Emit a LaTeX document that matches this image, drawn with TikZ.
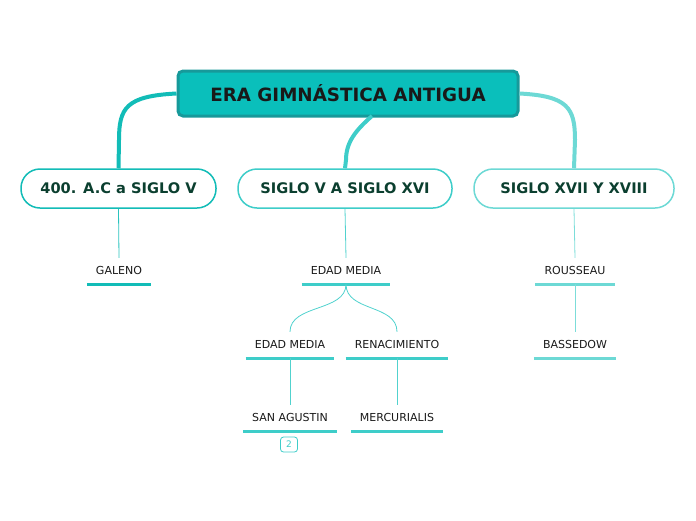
\documentclass[tikz,border=0pt]{standalone}
\usepackage{fontspec}
\setmainfont{DejaVu Sans}
\usepackage{xcolor}
\usepackage{tikz}
\usetikzlibrary{positioning}

\definecolor{rootfill}{HTML}{0ABFBB}
\definecolor{rootline}{HTML}{17999A}
\definecolor{brA}{HTML}{12BCB7}
\definecolor{brB}{HTML}{3ECDC9}
\definecolor{brC}{HTML}{6DD9D5}
\definecolor{titletxt}{HTML}{0B3F2F}

\begin{document}
\begin{tikzpicture}[x=1pt, y=-1pt,
  central/.style={draw=rootline, fill=rootfill, line width=3pt, rounded corners=5pt, minimum width=340pt, minimum height=45pt, font=\fontsize{18.3}{20}\selectfont\bfseries, text=black!90},
  era/.style={draw=#1, fill=white, line width=1.5pt, rounded corners=19pt, minimum height=39pt, font=\fontsize{14.6}{16}\selectfont\bfseries, text=titletxt},
  topic/.style={text height=8pt, text depth=2pt, inner ysep=8pt, inner xsep=9pt, font=\fontsize{11}{13}\selectfont, text=black!90},
  uline/.style={line width=3pt, #1},
  trunk/.style={line width=4pt, #1},
  twig/.style={line width=0.8pt, #1!90},
  badge/.style={draw=brB, text=brB, rounded corners=3pt, line width=0.8pt, minimum width=17pt, minimum height=15pt, inner sep=0pt, font=\fontsize{9}{10}\selectfont},
]
  \useasboundingbox (0,0) rectangle (696,520);

  % nodes
  \node[central] (root) at (348,93.5) {ERA GIMNÁSTICA ANTIGUA};

  \node[era=brA, minimum width=195pt] (antes)   at (118.5,188.5) {400. A.C a SIGLO V};
  \node[era=brB, minimum width=214pt] (medio)   at (345,188.5)   {SIGLO V A SIGLO XVI};
  \node[era=brC, minimum width=200pt] (moderno) at (574,188.5)   {SIGLO XVII Y XVIII};

  \node[topic] (galeno)   at (119,271) {GALENO};
  \node[topic] (edad)     at (346,271) {EDAD MEDIA};
  \node[topic] (rousseau) at (575,271) {ROUSSEAU};

  \node[topic] (edadb)    at (290,345) {EDAD MEDIA};
  \node[topic] (renac)    at (397,345) {RENACIMIENTO};
  \node[topic] (bassedow) at (575,345) {BASSEDOW};

  \node[topic] (agustin)  at (290,418) {SAN AGUSTIN};
  \node[topic] (mercu)    at (397,418) {MERCURIALIS};

  \node[badge] (nota) at (289,444.5) {2};

  % underlines
  \draw[uline=brA] (galeno.south west) -- (galeno.south east);
  \foreach \n in {edad, edadb, renac, agustin, mercu}
    \draw[uline=brB] (\n.south west) -- (\n.south east);
  \foreach \n in {rousseau, bassedow}
    \draw[uline=brC] (\n.south west) -- (\n.south east);

  % trunks
  \coordinate (rb) at (372,116);
  \draw[trunk=brA] (root.west) .. controls (126,96) and (119,108) .. (119,140) -- (antes.north);
  \draw[trunk=brB] (rb) .. controls (356,130) and (346,142) .. (346,160) -- (medio.north);
  \draw[trunk=brC] (root.east) .. controls (568,96) and (575,108) .. (575,140) -- (moderno.north);

  % twigs
  \draw[twig=brA] (antes.south) -- (galeno.north);
  \draw[twig=brB] (medio.south) -- (edad.north);
  \draw[twig=brC] (moderno.south) -- (rousseau.north);
  \draw[twig=brB] (edad.south) .. controls (346,312) and (290,304) .. (edadb.north);
  \draw[twig=brB] (edad.south) .. controls (346,312) and (397,304) .. (renac.north);
  \draw[twig=brB] (edadb.south) -- (agustin.north);
  \draw[twig=brB] (renac.south) -- (mercu.north);
  \draw[twig=brC] (rousseau.south) -- (bassedow.north);
\end{tikzpicture}
\end{document}
